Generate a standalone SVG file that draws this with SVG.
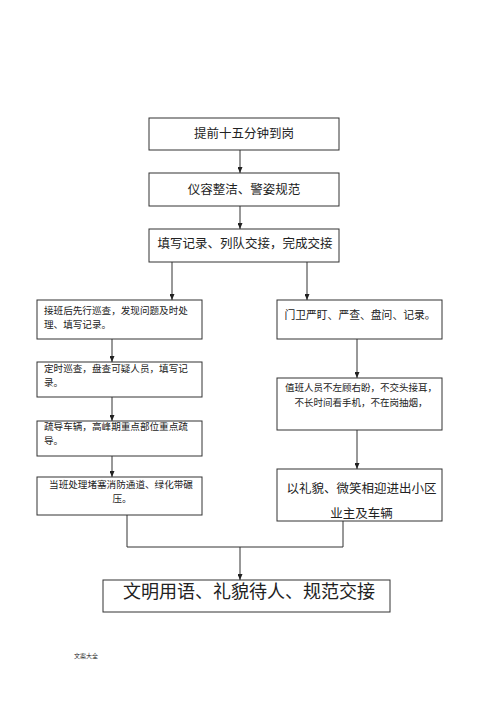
<svg xmlns="http://www.w3.org/2000/svg" width="496" height="702" viewBox="0 0 496 702">
<defs>
<marker id="ah" markerUnits="userSpaceOnUse" markerWidth="6" markerHeight="5" refX="6" refY="2.5" orient="auto">
<path d="M0,0 L6,2.5 L0,5 z" fill="#222"/>
</marker>
<style>
.box{fill:#fff;stroke:#333;stroke-width:1}
.t{font-family:"Noto Sans CJK SC","Noto Sans",sans-serif;fill:#222}
.m{text-anchor:middle}
.s{font-size:9.6px}
.c{fill:none;stroke:#333;stroke-width:1}
.a{marker-end:url(#ah)}
</style>
</defs>
<rect width="496" height="702" fill="#fff"/>
<g id="connectors">
<line class="c a" x1="240" y1="150" x2="240" y2="173"/>
<line class="c a" x1="240" y1="206" x2="240" y2="229"/>
<line class="c a" x1="172" y1="262" x2="172" y2="300"/>
<line class="c a" x1="307" y1="262" x2="307" y2="300"/>
<line class="c a" x1="112" y1="339" x2="112" y2="362"/>
<line class="c a" x1="112" y1="397" x2="112" y2="421"/>
<line class="c a" x1="112" y1="456" x2="112" y2="477"/>
<line class="c a" x1="357" y1="339" x2="357" y2="378"/>
<line class="c a" x1="357" y1="430" x2="357" y2="469"/>
<polyline class="c" points="127,515 127,547 343,547 343,521"/>
<line class="c a" x1="240" y1="547" x2="240" y2="580"/>
</g>
<g id="n1"><rect class="box" x="149" y="118" width="190" height="32"/><text class="t m" x="244" y="138" font-size="12.5">提前十五分钟到岗</text></g>
<g id="n2"><rect class="box" x="149" y="173" width="190" height="33"/><text class="t m" x="244" y="194" font-size="12.5">仪容整洁、警姿规范</text></g>
<g id="n3"><rect class="box" x="149" y="229" width="190" height="33"/><text class="t m" x="245" y="248" font-size="12.5">填写记录、列队交接，完成交接</text></g>
<g id="l1"><rect class="box" x="37" y="300" width="165" height="39"/><text class="t s" x="44" y="314">接班后先行巡查，发现问题及时处</text><text class="t s" x="44" y="328">理、填写记录。</text></g>
<g id="l2"><rect class="box" x="37" y="362" width="165" height="35"/><text class="t s" x="44" y="372">定时巡查，盘查可疑人员，填写记</text><text class="t s" x="44" y="386">录。</text></g>
<g id="l3"><rect class="box" x="37" y="421" width="165" height="35"/><text class="t s" x="44" y="430">疏导车辆，高峰期重点部位重点疏</text><text class="t s" x="44" y="444">导。</text></g>
<g id="l4"><rect class="box" x="37" y="477" width="165" height="38"/><text class="t m s" x="121" y="488">当班处理堵塞消防通道、绿化带碾</text><text class="t m s" x="122" y="502">压。</text></g>
<g id="r1"><rect class="box" x="277" y="300" width="165" height="39"/><text class="t m" x="360" y="319" font-size="10.8">门卫严盯、严查、盘问、记录。</text></g>
<g id="r2"><rect class="box" x="277" y="378" width="165" height="52"/><text class="t m" x="361" y="391" font-size="9.5">值班人员不左顾右盼，不交头接耳，</text><text class="t m" x="361" y="406" font-size="9.5">不长时间看手机，不在岗抽烟，</text></g>
<g id="r3"><rect class="box" x="277" y="469" width="165" height="52"/><text class="t m" x="361.5" y="493" font-size="12.5">以礼貌、微笑相迎进出小区</text><text class="t m" x="361.5" y="518" font-size="12.5">业主及车辆</text></g>
<g id="final"><rect class="box" x="103" y="580" width="287" height="32"/><text class="t m" x="249" y="598" font-size="18">文明用语、礼貌待人、规范交接</text></g>
<text class="t m" x="86" y="658" font-size="6" fill="#555">文案大全</text>
</svg>
